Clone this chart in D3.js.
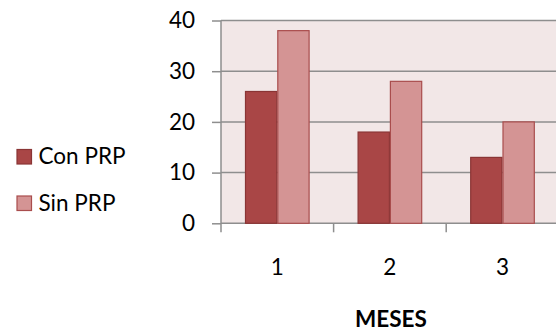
<!DOCTYPE html>
<html>
<head>
<meta charset="utf-8">
<script src="https://cdn.jsdelivr.net/npm/d3@7"></script>
<style>
  html, body { margin: 0; padding: 0; background: #ffffff; }
  svg { display: block; }
  text { font-family: "Lato", "Open Sans", sans-serif; fill: #000; }
</style>
</head>
<body>
<svg id="chart" width="556" height="333"></svg>
<script>
// Months on the x axis
const categories = ["1", "2", "3"];
// Series names
const seriesNames = ["Con PRP", "Sin PRP"];
// Values per series, one per month
const conPRP = [26, 18, 13];
const sinPRP = [38, 28, 20];
// Y axis ticks
const yTicks = [0, 10, 20, 30, 40];
const xTitle = "MESES";

const seriesValues = [conPRP, sinPRP];
const fills = ["#A94646", "#D49494"];
const strokes = ["#8A3535", "#A94D4D"];
const gridColor = "#8E8E8E";
const fontSize = 22.5;

const svg = d3.select("#chart");

const plot = { left: 221, right: 558.8, top: 20.5, bottom: 223.3 };

const y = d3.scaleLinear().domain([0, 40]).range([plot.bottom, plot.top]);
const x = d3.scaleBand().domain(categories).range([plot.left, plot.right]).padding(0);
const xSub = d3.scaleBand().domain(seriesNames).range([0, x.bandwidth()])
  .paddingInner(0).paddingOuter(0.743);

// plot background
svg.append("rect")
  .attr("x", plot.left).attr("y", plot.top)
  .attr("width", plot.right - plot.left).attr("height", plot.bottom - plot.top)
  .attr("fill", "#F2E7E7");

// y ticks and labels
const yAxis = d3.axisLeft(y).tickValues(yTicks).tickSize(9).tickPadding(17);
const yg = svg.append("g").attr("transform", `translate(${plot.left},0)`).call(yAxis);
yg.select(".domain").remove();
yg.selectAll(".tick line").attr("stroke", gridColor).attr("stroke-width", 1.5);
yg.selectAll(".tick text")
  .attr("font-size", fontSize).attr("font-family", "Lato, sans-serif").attr("fill", "#000");

// horizontal gridlines
svg.append("g").selectAll("line").data(yTicks).join("line")
  .attr("x1", plot.left).attr("x2", 556)
  .attr("y1", d => y(d)).attr("y2", d => y(d))
  .attr("stroke", gridColor).attr("stroke-width", 1.5);

// bars
const groups = svg.append("g").selectAll("g").data(categories).join("g")
  .attr("transform", d => `translate(${x(d)},0)`);
groups.selectAll("rect")
  .data((c, i) => seriesNames.map((s, k) => ({ s, k, v: seriesValues[k][i] })))
  .join("rect")
  .attr("x", d => xSub(d.s) + 0.5)
  .attr("width", xSub.bandwidth() - 1)
  .attr("y", d => y(d.v))
  .attr("height", d => y(0) - y(d.v))
  .attr("fill", d => fills[d.k])
  .attr("stroke", d => strokes[d.k])
  .attr("stroke-width", 1.2);

// vertical axis line
svg.append("line")
  .attr("x1", plot.left).attr("x2", plot.left)
  .attr("y1", plot.top).attr("y2", plot.bottom)
  .attr("stroke", gridColor).attr("stroke-width", 1.5);

// category axis
const xAxis = d3.axisBottom(x).tickSize(0).tickPadding(36);
const xg = svg.append("g").attr("transform", `translate(0,${plot.bottom})`).call(xAxis);
xg.select(".domain").remove();
xg.selectAll(".tick text")
  .attr("font-size", fontSize).attr("font-family", "Lato, sans-serif").attr("fill", "#000");

// category separators below the axis
const seps = [plot.left].concat(categories.map(c => x(c) + x.bandwidth()));
svg.append("g").selectAll("line").data(seps).join("line")
  .attr("x1", d => d).attr("x2", d => d)
  .attr("y1", plot.bottom).attr("y2", plot.bottom + 9)
  .attr("stroke", gridColor).attr("stroke-width", 1.5);

// x axis title
svg.append("text")
  .attr("x", 391).attr("y", 327)
  .attr("text-anchor", "middle")
  .attr("font-size", fontSize).attr("font-weight", "bold")
  .text(xTitle);

// legend
const legend = svg.append("g").selectAll("g").data(seriesNames).join("g")
  .attr("transform", (d, i) => `translate(17,${149.5 + i * 46.5})`);
legend.append("rect")
  .attr("width", 14.5).attr("height", 14.5)
  .attr("fill", (d, i) => fills[i])
  .attr("stroke", (d, i) => strokes[i]).attr("stroke-width", 1.2);
legend.append("text")
  .attr("x", 21.5).attr("y", 14.5)
  .attr("font-size", fontSize)
  .text(d => d);
</script>
</body>
</html>
